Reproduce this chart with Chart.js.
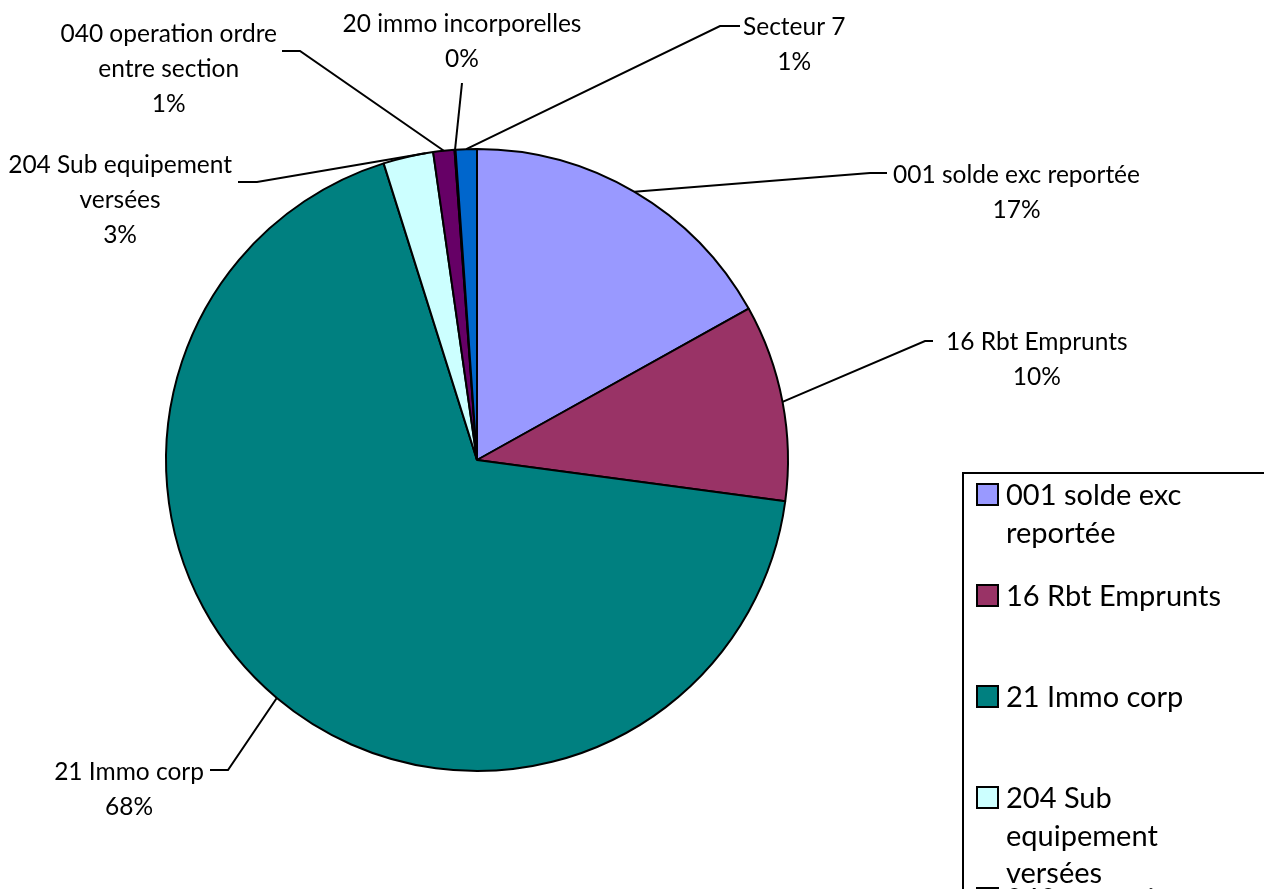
<!DOCTYPE html>
<html>
<head>
<meta charset="utf-8">
<script src="https://cdn.jsdelivr.net/npm/chart.js@4/dist/chart.umd.min.js"></script>
<style>
  html, body { margin: 0; padding: 0; background: #fff; }
  #wrap { width: 1264px; height: 889px; position: relative; overflow: hidden; }
</style>
</head>
<body>
<div id="wrap"><canvas id="pie"></canvas></div>
<script>
// chart data
const categories = [
    "001 solde exc reportée",
    "16 Rbt Emprunts",
    "21 Immo corp",
    "204 Sub equipement versées",
    "040 operation ordre entre section",
    "20 immo incorporelles",
    "Secteur 7"
];
const shares = [16.9, 10.2, 68.0, 2.6, 1.1, 0.05, 1.1];

// styles
const sliceColors = ["#9999FF", "#993366", "#008080", "#CCFFFF", "#660066", "#FF8080", "#0066CC"];
const FONT = "Lato, 'Open Sans', sans-serif";
const labelFont = "24.5px " + FONT;
const legendFont = "29px " + FONT;

// where each data label sits (side, x edge, first baseline), leader elbow and end, wrap width
const labelLayout = [
    { side: "right",  x: 893, y: 183, elbow: [870, 173], end: [887, 173], wrap: 500, at: 0.5 },
    { side: "right",  x: 946, y: 350, elbow: [925, 341], end: [933, 341], wrap: 500, at: 0.5 },
    { side: "left",   x: 204, y: 780, elbow: [228, 770], end: [210, 770], wrap: 500, at: 0.5 },
    { side: "left",   x: 232, y: 173, elbow: [257, 182], end: [238, 182], wrap: 260, at: 0.85 },
    { side: "left",   x: 277, y: 42,  elbow: [300, 51],  end: [282, 51],  wrap: 260, at: 0.5 },
    { side: "center", x: 462, y: 32,  elbow: [462, 83],  end: [462, 83],  wrap: 500, at: 0.5 },
    { side: "right",  x: 743, y: 35,  elbow: [720, 26],  end: [740, 26],  wrap: 500, at: 0.5 }
];
const labelLineGap = 35;

const legendBox = { x: 963, y: 473 };
const legendItem = { x: 977, top: 484, step: 101, box: 21, textX: 1006, lineGap: 37.5, wrap: 235 };

const wrapText = (ctx, text, maxW) => {
    const words = text.split(" ");
    const lines = [];
    let cur = "";
    words.forEach(w => {
        const test = cur ? cur + " " + w : w;
        if (cur && ctx.measureText(test).width > maxW) {
            lines.push(cur);
            cur = w;
        } else {
            cur = test;
        }
    });
    if (cur) lines.push(cur);
    return lines;
};

const total = shares.reduce((a, b) => a + b, 0);

// data labels with leader lines
const pieLabels = {
    id: "pieLabels",
    afterDraw(chart) {
        const ctx = chart.ctx;
        const arcs = chart.getDatasetMeta(0).data;
        ctx.save();
        ctx.font = labelFont;
        ctx.fillStyle = "#000";
        ctx.strokeStyle = "#000";
        ctx.lineWidth = 2;
        arcs.forEach((arc, i) => {
            const lay = labelLayout[i];
            const a = arc.startAngle + (arc.endAngle - arc.startAngle) * lay.at;
            const px = arc.x + arc.outerRadius * Math.cos(a);
            const py = arc.y + arc.outerRadius * Math.sin(a);
            ctx.beginPath();
            ctx.moveTo(px, py);
            ctx.lineTo(lay.elbow[0], lay.elbow[1]);
            ctx.lineTo(lay.end[0], lay.end[1]);
            ctx.stroke();

            const lines = wrapText(ctx, categories[i], lay.wrap);
            lines.push(Math.round(shares[i] / total * 100) + "%");
            const w = Math.max(...lines.map(l => ctx.measureText(l).width));
            let cx = lay.x;
            if (lay.side === "right") cx = lay.x + w / 2;
            if (lay.side === "left") cx = lay.x - w / 2;
            ctx.textAlign = "center";
            ctx.textBaseline = "alphabetic";
            lines.forEach((l, k) => ctx.fillText(l, cx, lay.y + k * labelLineGap));
        });
        ctx.restore();
    }
};

// legend drawn like the spreadsheet one (fixed slots, wrapped text)
const sheetLegend = {
    id: "sheetLegend",
    afterDraw(chart) {
        const ctx = chart.ctx;
        ctx.save();
        ctx.strokeStyle = "#000";
        ctx.lineWidth = 2;
        ctx.fillStyle = "#fff";
        ctx.fillRect(legendBox.x, legendBox.y, 400, 500);
        ctx.strokeRect(legendBox.x, legendBox.y, 400, 500);
        ctx.font = legendFont;
        ctx.textAlign = "left";
        ctx.textBaseline = "alphabetic";
        chart.data.labels.forEach((label, i) => {
            const top = legendItem.top + i * legendItem.step;
            ctx.fillStyle = sliceColors[i];
            ctx.fillRect(legendItem.x, top, legendItem.box, legendItem.box);
            ctx.strokeRect(legendItem.x, top, legendItem.box, legendItem.box);
            ctx.fillStyle = "#000";
            const lines = wrapText(ctx, label, legendItem.wrap);
            lines.forEach((l, k) => ctx.fillText(l, legendItem.textX, top + legendItem.box + k * legendItem.lineGap));
        });
        ctx.restore();
    }
};

new Chart(document.getElementById("pie"), {
    type: "pie",
    data: {
        labels: categories,
        datasets: [{
            data: shares,
            backgroundColor: sliceColors,
            borderColor: "#000",
            borderWidth: 2
        }]
    },
    options: {
        responsive: true,
        maintainAspectRatio: false,
        animation: false,
        events: [],
        radius: 311,
        layout: { padding: { left: 166, top: 149, right: 476, bottom: 118 } },
        plugins: {
            legend: { display: false },
            tooltip: { enabled: false }
        }
    },
    plugins: [pieLabels, sheetLegend]
});
</script>
</body>
</html>
